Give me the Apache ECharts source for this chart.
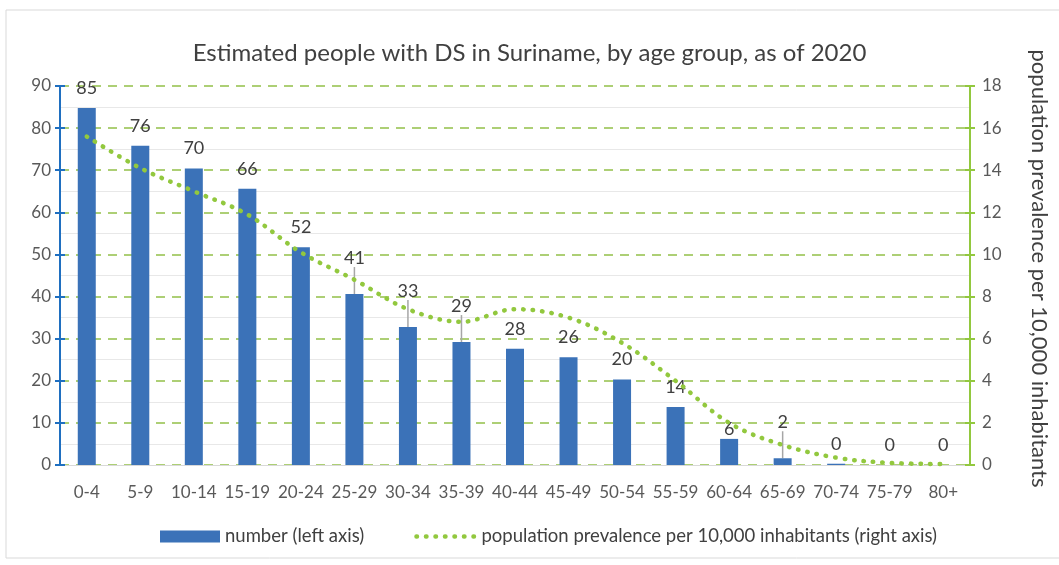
<!DOCTYPE html>
<html><head><meta charset="utf-8">
<script src="https://cdn.jsdelivr.net/npm/echarts@6/dist/echarts.min.js"></script>
<style>html,body{margin:0;padding:0;background:#fff}#c{width:1059px;height:565px}</style>
</head><body><div id="c"></div>
<script>
const categories = ['0-4','5-9','10-14','15-19','20-24','25-29','30-34','35-39','40-44','45-49','50-54','55-59','60-64','65-69','70-74','75-79','80+'];
const numbers = [84.8, 75.8, 70.4, 65.6, 51.7, 40.6, 32.8, 29.2, 27.6, 25.6, 20.3, 13.8, 6.2, 1.6, 0.3, 0, 0];
const prevalence = [15.6, 14.1, 13.0, 11.9, 10.1, 8.8, 7.4, 6.8, 7.4, 7.0, 5.8, 4.0, 2.0, 0.95, 0.35, 0.1, 0.05];
const leftTicks = [0, 90, 10];
const rightTicks = [0, 18, 2];
const shiftedLabels = [5, 6, 7, 13];
const loweredLabels = [12];

const FONT = 'Lato';
const barData = numbers.map((v, i) => shiftedLabels.includes(i)
  ? {value: v, labelLine: {show: true}} : {value: v});

const chart = echarts.init(document.getElementById('c'));
chart.setOption({
  textStyle: {fontFamily: FONT},
  title: {text: 'Estimated people with DS in Suriname, by age group, as of 2020', left: 'center', top: 36,
    textStyle: {fontFamily: FONT, fontSize: 24, fontWeight: 'normal', color: '#404040'}},
  graphic: [{type: 'rect', shape: {x: 6, y: 10, width: 1100, height: 548}, style: {fill: 'none', stroke: '#D9D9D9', lineWidth: 1}, silent: true, z: -1}],
  grid: {left: 60, right: 89, top: 86, bottom: 100, containLabel: false},
  legend: {bottom: 14, left: 155, itemGap: 50, itemWidth: 60, itemHeight: 12,
    textStyle: {fontFamily: FONT, fontSize: 18.5, color: '#404040'},
    data: [{name: 'number (left axis)', icon: 'rect'},
           {name: 'population prevalence per 10,000 inhabitants (right axis)', itemStyle: {opacity: 0},
            lineStyle: {color: '#92C83E', width: 4.5, type: [0.5, 9], cap: 'round'}}]},
  xAxis: {type: 'category', data: categories,
    axisLine: {lineStyle: {color: '#D9D9D9', width: 1}}, axisTick: {show: false},
    axisLabel: {color: '#595959', fontSize: 17, margin: 19, interval: 0}},
  yAxis: [
    {type: 'value', min: leftTicks[0], max: leftTicks[1], interval: leftTicks[2], position: 'left',
      axisLine: {show: true, lineStyle: {color: '#1F6FC0', width: 2}},
      axisTick: {show: true, length: 5, lineStyle: {color: '#1F6FC0', width: 2}},
      axisLabel: {color: '#595959', fontSize: 17, margin: 9},
      splitLine: {show: true, lineStyle: {color: '#92C048', type: [9, 7], width: 1.5}},
      minorTick: {show: false, splitNumber: 2},
      minorSplitLine: {show: true, lineStyle: {color: '#E8E8E8', width: 1}}},
    {type: 'value', min: rightTicks[0], max: rightTicks[1], interval: rightTicks[2], position: 'right',
      name: 'population prevalence per 10,000 inhabitants', nameLocation: 'middle', nameRotate: -90, nameGap: 58,
      nameTextStyle: {fontFamily: FONT, fontSize: 22, color: '#404040', padding: [0, 14, 0, 0]},
      axisLine: {show: true, lineStyle: {color: '#92C83E', width: 2}},
      axisTick: {show: true, length: 5, lineStyle: {color: '#92C83E', width: 2}},
      axisLabel: {color: '#595959', fontSize: 17, margin: 12},
      splitLine: {show: false}},
    {type: 'value', min: leftTicks[0], max: leftTicks[1], interval: leftTicks[2], position: 'left',
      axisLine: {show: false}, axisLabel: {show: false}, splitLine: {show: false},
      axisTick: {show: true, inside: true, length: 5, lineStyle: {color: '#1F6FC0', width: 2}}},
    {type: 'value', min: rightTicks[0], max: rightTicks[1], interval: rightTicks[2], position: 'right',
      axisLine: {show: false}, axisLabel: {show: false}, splitLine: {show: false},
      axisTick: {show: true, inside: true, length: 5, lineStyle: {color: '#92C83E', width: 2}}}
  ],
  series: [
    {name: 'number (left axis)', type: 'bar', yAxisIndex: 0, data: barData, barWidth: 18,
      itemStyle: {color: '#3B72B8'},
      label: {show: true, position: 'top', distance: 11, fontSize: 18, color: '#404040', fontFamily: FONT,
        formatter: p => Math.round(p.value)},
      labelLine: {show: false, lineStyle: {color: '#A6A6A6', width: 1.5}},
      labelLayout: p => shiftedLabels.includes(p.dataIndex) ? {dy: -16}
                        : (loweredLabels.includes(p.dataIndex) ? {dy: 10} : {}),
      z: 2},
    {name: 'population prevalence per 10,000 inhabitants (right axis)', type: 'line', yAxisIndex: 1, data: prevalence,
      smooth: 0.35, showSymbol: false, symbol: 'none',
      lineStyle: {color: '#92C83E', width: 4.5, type: [0.5, 9], cap: 'round'},
      itemStyle: {color: '#92C83E'}, z: 3}
  ]
});
</script></body></html>
